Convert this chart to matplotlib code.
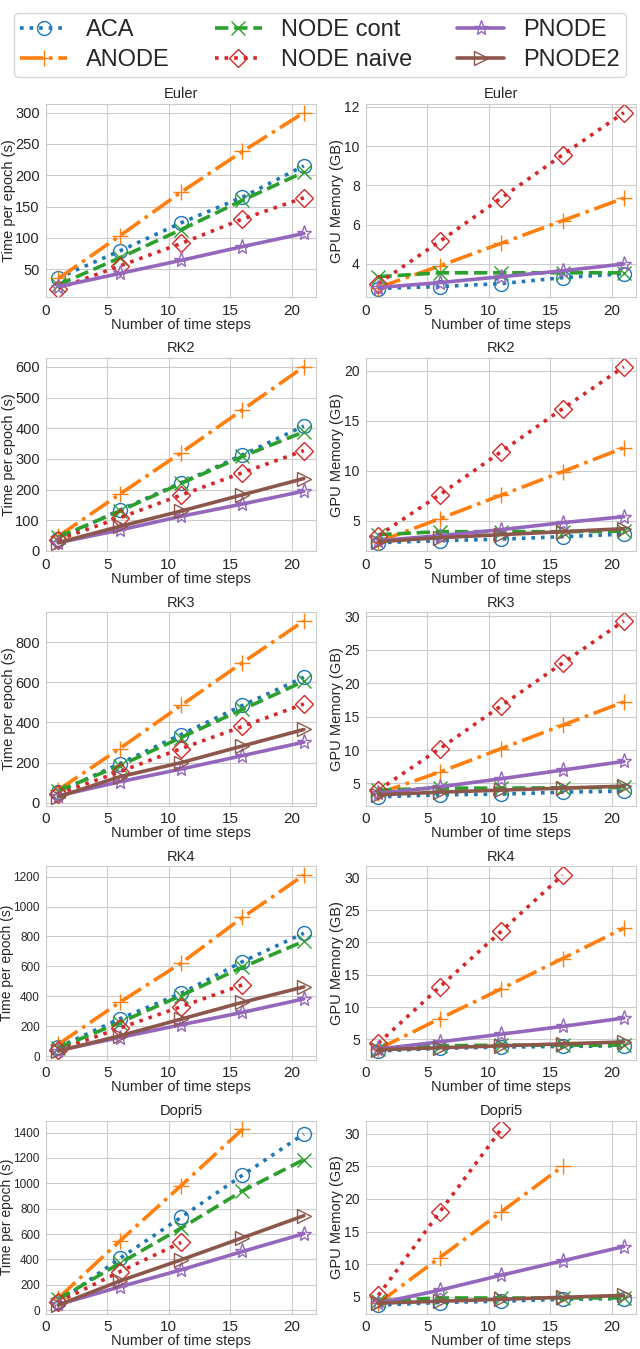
import matplotlib
matplotlib.use("Agg")
import matplotlib.pyplot as plt
from matplotlib.ticker import MultipleLocator
import seaborn as sns

sns.set_style("whitegrid")
plt.rcParams['font.family'] = ['Liberation Sans', 'DejaVu Sans']

steps = [1, 6, 11, 16, 21]
solvers = ["Euler", "RK2", "RK3", "RK4", "Dopri5"]
methods = ["ACA", "ANODE", "NODE cont", "NODE naive", "PNODE", "PNODE2"]

# time per epoch (s)
time_aca = [[36, 79, 124, 165, 215], [40, 133, 222, 313, 407], [55, 195, 340, 485, 625],
            [60, 250, 420, 632, 822], [65, 408, 732, 1064, 1389]]
time_anode = [[35, 103, 173, 238, 300], [48, 185, 320, 460, 600], [65, 270, 485, 698, 905],
              [80, 360, 622, 927, 1210], [95, 545, 982, 1426]]
time_cont = [[25, 68, 113, 160, 205], [45, 130, 220, 308, 388], [60, 185, 325, 465, 605],
             [55, 225, 405, 595, 768], [85, 370, 647, 940, 1187]]
time_naive = [[19, 55, 91, 130, 164], [37, 108, 182, 255, 327], [45, 155, 270, 380, 492],
              [40, 188, 331, 477], [65, 303, 534]]
time_pnode = [[22, 43, 64, 86, 107], [27, 68, 113, 153, 195], [35, 105, 168, 235, 302],
              [38, 125, 210, 293, 383], [45, 184, 318, 463, 603]]
time_pnode2 = [[], [27, 80, 130, 183, 236], [30, 130, 200, 283, 365],
               [35, 136, 248, 360, 463], [40, 230, 397, 571, 745]]

# GPU memory (GB)
mem_aca = [[2.75, 2.85, 3.0, 3.3, 3.5], [2.8, 3.0, 3.15, 3.4, 3.65], [3.0, 3.3, 3.4, 3.7, 3.85],
           [3.2, 3.6, 3.8, 3.9, 4.0], [3.7, 4.1, 4.3, 4.6, 4.7]]
mem_anode = [[2.8, 3.9, 5.05, 6.2, 7.35], [2.9, 5.2, 7.55, 9.9, 12.3], [3.5, 6.7, 10.2, 13.7, 17.2],
             [3.5, 8.2, 12.8, 17.5, 22.2], [4.0, 11.0, 18.0, 25.0]]
mem_cont = [[3.35, 3.55, 3.55, 3.55, 3.55], [3.6, 3.9, 3.9, 3.9, 3.95], [4.0, 4.3, 4.3, 4.35, 4.4],
            [3.5, 4.0, 4.1, 4.1, 4.1], [4.4, 4.8, 4.8, 4.8, 4.8]]
mem_naive = [[3.0, 5.15, 7.35, 9.55, 11.7], [3.5, 7.6, 11.9, 16.2, 20.4], [4.0, 10.2, 16.6, 23.0, 29.3],
             [4.4, 13.1, 21.7, 30.4], [5.2, 18.0, 30.7]]
mem_pnode = [[2.8, 3.05, 3.35, 3.65, 4.0], [3.0, 3.5, 4.1, 4.8, 5.4], [3.5, 4.5, 5.7, 7.0, 8.3],
             [3.5, 4.6, 5.8, 7.0, 8.3], [4.0, 6.0, 8.3, 10.5, 12.7]]
mem_pnode2 = [[], [2.9, 3.3, 3.6, 3.9, 4.2], [3.3, 3.7, 4.0, 4.3, 4.6],
              [3.4, 3.7, 4.0, 4.3, 4.6], [4.0, 4.3, 4.6, 4.9, 5.2]]

time_data = [time_aca, time_anode, time_cont, time_naive, time_pnode, time_pnode2]
mem_data = [mem_aca, mem_anode, mem_cont, mem_naive, mem_pnode, mem_pnode2]

# y tick spacing per row
time_step = [50, 100, 200, 200, 200]
mem_step = [2, 5, 5, 5, 5]

styles = {
    "ACA": dict(color="tab:blue", linestyle=":", marker="o", ms=10),
    "ANODE": dict(color="tab:orange", linestyle="-.", marker="+", ms=11),
    "NODE cont": dict(color="tab:green", linestyle="--", marker="x", ms=10),
    "NODE naive": dict(color="tab:red", linestyle=":", marker="D", ms=9),
    "PNODE": dict(color="tab:purple", linestyle="-", marker="*", ms=11),
    "PNODE2": dict(color="tab:brown", linestyle="-", marker=">", ms=10),
}

fig, axes = plt.subplots(5, 2, figsize=(6.4, 13.49), dpi=100)
fig.subplots_adjust(left=0.072, right=0.994, top=0.923, bottom=0.026,
                    wspace=0.185, hspace=0.314)

handles = {}
for i, solver in enumerate(solvers):
    for j, (data, ylabel, step) in enumerate([(time_data, "Time per epoch (s)", time_step[i]),
                                              (mem_data, "GPU Memory (GB)", mem_step[i])]):
        ax = axes[i, j]
        for k, m in enumerate(methods):
            vals = data[k][i]
            if len(vals) == 0:
                continue
            st = styles[m]
            line, = ax.plot(steps[:len(vals)], vals, color=st["color"],
                            linestyle=st["linestyle"], linewidth=2.6,
                            marker=st["marker"], markersize=st["ms"],
                            markerfacecolor="none", markeredgewidth=1.0,
                            label=m)
            handles[m] = line
        label_fs = 10.5
        if j == 1:
            tick_fs = 10
            label_x = -0.08
        elif i < 3:
            tick_fs = 10.5
            label_x = -0.112
        else:
            tick_fs = 8.5
            label_fs = 10
            label_x = -0.12
        ax.set_title(solver, fontsize=10.5, pad=4)
        ax.set_xlabel("Number of time steps", fontsize=10.5, labelpad=0)
        ax.set_ylabel(ylabel, fontsize=label_fs)
        ax.yaxis.set_label_coords(label_x, 0.5)
        ax.set_xlim(0, 22)
        ax.set_xticks([0, 5, 10, 15, 20])
        ax.yaxis.set_major_locator(MultipleLocator(step))
        ax.tick_params(axis="x", labelsize=11, pad=1)
        ax.tick_params(axis="y", labelsize=tick_fs, pad=1)

fig.legend([handles[m] for m in methods], methods, loc="upper center",
           bbox_to_anchor=(0.5, 0.999), ncol=3, fontsize=17,
           handlelength=2.0, handletextpad=0.8, columnspacing=1.9,
           frameon=True, borderpad=0.25, labelspacing=0.35)

fig.savefig("out.png", dpi=100)
